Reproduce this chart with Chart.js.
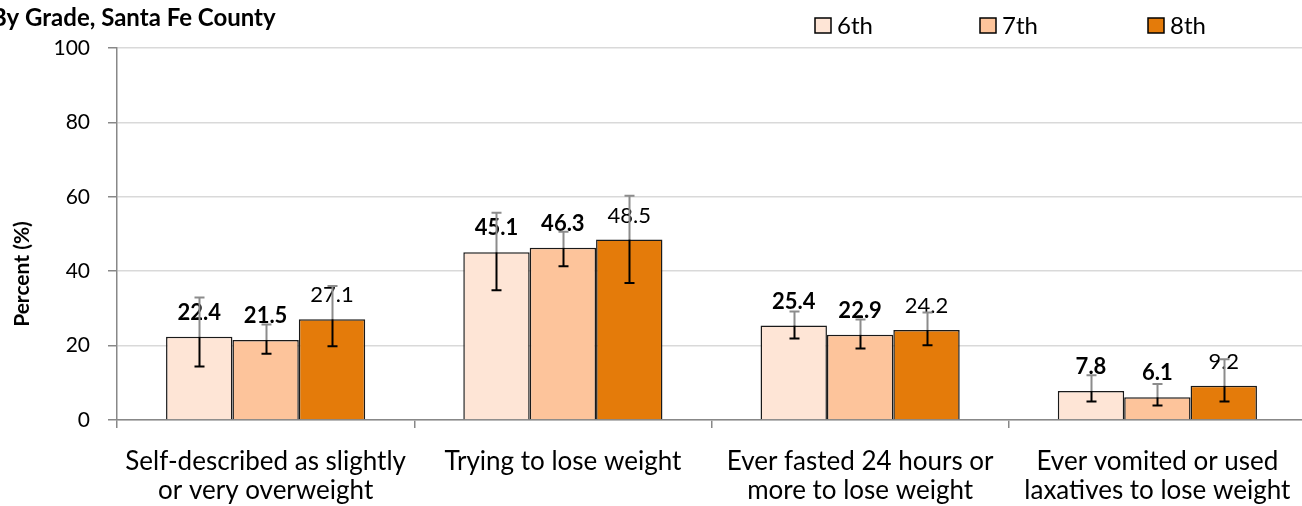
<!DOCTYPE html>
<html>
<head>
<meta charset="utf-8">
<script src="https://cdn.jsdelivr.net/npm/chart.js@4.4.1/dist/chart.umd.min.js"></script>
<style>
  html, body { margin: 0; padding: 0; background: #fff; overflow: hidden; }
  #wrap { position: absolute; left: 0; top: 0; width: 1306px; height: 506px; }
</style>
</head>
<body>
<div id="wrap"><canvas id="chart" width="1306" height="506"></canvas></div>
<script>
// Dados do grafico
const titleText = 'By Grade, Santa Fe County';
const yTitle = 'Percent (%)';
const categories = [
  ['Self-described as slightly', 'or very overweight'],
  'Trying to lose weight',
  ['Ever fasted 24 hours or', 'more to lose weight'],
  ['Ever vomited or used', 'laxatives to lose weight']
];
const grades = ['6th', '7th', '8th'];
const values6 = [22.4, 45.1, 25.4, 7.8];
const values7 = [21.5, 46.3, 22.9, 6.1];
const values8 = [27.1, 48.5, 24.2, 9.2];
const lower6 = [14.4, 34.9, 21.9, 5.0];
const upper6 = [32.9, 55.7, 29.2, 12.0];
const lower7 = [17.8, 41.3, 19.2, 3.9];
const upper7 = [25.7, 50.6, 27.0, 9.7];
const lower8 = [19.8, 36.8, 20.1, 5.0];
const upper8 = [36.0, 60.3, 28.9, 16.3];
const yTicks = [0, 20, 40, 60, 80, 100];

const colors = ['#FEE5D6', '#FDC49B', '#E47B0A'];
const boldLabels = [true, true, false];
const FONT = 'Lato, "Noto Sans", sans-serif';

const errorBars = [[lower6, upper6], [lower7, upper7], [lower8, upper8]];

// Titulo, legenda e titulo do eixo Y
const extrasPlugin = {
  id: 'extras',
  afterDraw(chart) {
    const ctx = chart.ctx;
    ctx.save();
    ctx.fillStyle = '#000';
    ctx.textBaseline = 'middle';
    ctx.textAlign = 'left';
    ctx.font = 'bold 24px ' + FONT;
    ctx.fillText(titleText, -9, 18);

    // legenda
    const legendX = [815, 980, 1148];
    ctx.font = '24px ' + FONT;
    chart.data.datasets.forEach((ds, i) => {
      const x = legendX[i];
      ctx.fillStyle = ds.backgroundColor;
      ctx.fillRect(x, 18, 16, 15);
      ctx.strokeStyle = '#000';
      ctx.lineWidth = 1.5;
      ctx.strokeRect(x, 18, 16, 15);
      ctx.fillStyle = '#000';
      ctx.fillText(ds.label, x + 22, 26);
    });

    // titulo eixo Y
    ctx.translate(22, 274);
    ctx.rotate(-Math.PI / 2);
    ctx.textAlign = 'center';
    ctx.font = 'bold 21px ' + FONT;
    ctx.fillText(yTitle, 0, 0);
    ctx.restore();
  }
};

// Rotulos de valores e barras de erro
const labelsPlugin = {
  id: 'valueLabels',
  afterDatasetsDraw(chart) {
    const ctx = chart.ctx;
    const yScale = chart.scales.y;
    ctx.save();
    chart.data.datasets.forEach((ds, i) => {
      const meta = chart.getDatasetMeta(i);
      meta.data.forEach((bar, j) => {
        ctx.font = (boldLabels[i] ? 'bold ' : '') + '22px ' + FONT;
        ctx.fillStyle = '#000';
        ctx.textAlign = 'center';
        ctx.textBaseline = 'middle';
        ctx.fillText(ds.data[j].toFixed(1), bar.x, bar.y - 24);
      });
    });
    chart.data.datasets.forEach((ds, i) => {
      const meta = chart.getDatasetMeta(i);
      const [lo, hi] = errorBars[i];
      meta.data.forEach((bar, j) => {
        const yLo = yScale.getPixelForValue(lo[j]);
        const yHi = yScale.getPixelForValue(hi[j]);
        const x = Math.round(bar.x) + 0.5;
        ctx.lineWidth = 2;
        ctx.strokeStyle = '#8c8c8c';
        ctx.beginPath();
        ctx.moveTo(x, yHi);
        ctx.lineTo(x, bar.y);
        ctx.moveTo(x - 5, yHi);
        ctx.lineTo(x + 5, yHi);
        ctx.stroke();
        ctx.strokeStyle = '#000';
        ctx.beginPath();
        ctx.moveTo(x, bar.y);
        ctx.lineTo(x, yLo);
        ctx.moveTo(x - 5, yLo);
        ctx.lineTo(x + 5, yLo);
        ctx.stroke();
      });
    });
    ctx.restore();
  }
};

const datasets = [values6, values7, values8].map((vals, i) => ({
  label: grades[i],
  data: vals,
  backgroundColor: colors[i],
  borderColor: '#1a1a1a',
  borderWidth: 1.5,
  categoryPercentage: 0.67,
  barPercentage: 1.0
}));

new Chart(document.getElementById('chart'), {
  type: 'bar',
  data: { labels: categories, datasets: datasets },
  options: {
    responsive: false,
    animation: false,
    devicePixelRatio: 1,
    layout: { padding: { top: 48, right: 0, bottom: 0, left: 0 } },
    plugins: {
      legend: { display: false },
      tooltip: { enabled: false }
    },
    scales: {
      x: {
        afterFit(scale) {
          scale.height = 86;
          scale.paddingLeft = 0;
          scale.paddingRight = 0;
        },
        grid: {
          offset: true,
          drawOnChartArea: false,
          tickLength: 8,
          tickColor: '#888',
          lineWidth: 1.5
        },
        border: { color: '#888', width: 1.5 },
        ticks: {
          color: '#000',
          font: { family: FONT, size: 26, lineHeight: 1.08 },
          padding: 20,
          maxRotation: 0,
          autoSkip: false
        }
      },
      y: {
        min: 0,
        max: 100,
        afterFit(scale) { scale.width = 117; },
        afterBuildTicks(scale) { scale.ticks = yTicks.map(v => ({ value: v })); },
        grid: {
          color: '#d9d9d9',
          tickColor: '#888',
          tickLength: 9,
          lineWidth: 1.5
        },
        border: { color: '#888', width: 1.5 },
        ticks: {
          color: '#000',
          font: { family: FONT, size: 21 },
          padding: 18
        }
      }
    }
  },
  plugins: [labelsPlugin, extrasPlugin]
});
</script>
</body>
</html>
